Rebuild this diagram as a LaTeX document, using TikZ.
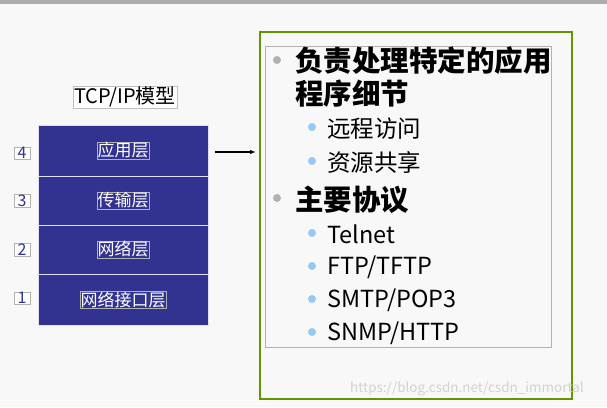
\documentclass[tikz,border=0pt]{standalone}
\usepackage{fontspec}
\setmainfont{Noto Sans CJK SC}
\usetikzlibrary{arrows.meta}
\definecolor{layer}{RGB}{50,50,145}
\definecolor{bg}{RGB}{248,248,248}
\definecolor{grn}{RGB}{100,150,0}
\definecolor{blt}{RGB}{150,200,250}
\tikzset{x=1pt,y=-1pt,
 lay/.style={draw=white!85!layer,fill=layer,minimum width=170pt,minimum height=50pt,inner sep=0pt},
 lbl/.style={draw=gray!60,text=white,font=\fontsize{17}{19}\selectfont,inner sep=0.5pt},
 num/.style={draw=gray!60,fill=white,text=layer,font=\fontsize{16}{18}\selectfont,inner sep=0.5pt,minimum width=16pt},
 big/.style={anchor=west,font=\bfseries\fontsize{28.5}{31}\selectfont,inner sep=0pt},
 sml/.style={anchor=west,font=\fontsize{23.5}{26}\selectfont,inner sep=0pt},
 dotg/.style={fill=gray!60,draw=none,circle,minimum size=8pt,inner sep=0pt},
 dotb/.style={fill=blt,draw=none,circle,minimum size=8pt,inner sep=0pt}}
\begin{document}
\begin{tikzpicture}
\fill[bg] (0,0) rectangle (607,407);
\useasboundingbox (0,0) rectangle (607,407);
\fill[gray!65] (0,0) rectangle (607,4);
\node[draw=gray!50,fill=white,font=\fontsize{20}{22}\selectfont,inner sep=1pt] (t) at (125,97) {TCP/IP模型};
\node[lay,minimum height=51pt] (l4) at (123,150.5) {}; \node[lbl] at (l4) {应用层};
\node[lay,minimum height=49pt] (l3) at (123,200.5) {}; \node[lbl] at (l3) {传输层};
\node[lay,minimum height=49pt] (l2) at (123,249.5) {}; \node[lbl] at (l2) {网络层};
\node[lay,minimum height=51pt] (l1) at (123,299.5) {}; \node[lbl] at (l1) {网络接口层};
\node[num] (n4) at (22,153) {4};
\node[num] (n3) at (22,201) {3};
\node[num] (n2) at (22,250) {2};
\node[num] (n1) at (22,298) {1};
\coordinate (a1) at (215,152); \coordinate (a2) at (256,152);
\draw[-{Latex[length=6pt]},line width=1.2pt] (a1) -- (a2);
\draw[grn,line width=2pt] (260,32) rectangle (572,399);
\draw[gray!60] (265,46) rectangle (551,347);
\node[dotg] at (277,60) {};
\node[big] (b1) at (295,61) {负责处理特定的应用};
\node[big] (b2) at (295,94) {程序细节};
\node[dotb] at (312,127) {}; \node[sml] at (327,129) {远程访问};
\node[dotb] at (312,161) {}; \node[sml] at (327,163) {资源共享};
\node[dotg] at (277,198) {};
\node[big] (b3) at (295,200) {主要协议};
\node[dotb] at (312,233) {}; \node[sml] at (327,234) {Telnet};
\node[dotb] at (312,266) {}; \node[sml] at (327,267) {FTP/TFTP};
\node[dotb] at (312,299) {}; \node[sml] at (327,300) {SMTP/POP3};
\node[dotb] at (312,332) {}; \node[sml] at (327,333) {SNMP/HTTP};
\node[anchor=west,text=gray!35,font=\fontsize{13.5}{15}\selectfont,inner sep=0pt] (w) at (350,389) {https://blog.csdn.net/csdn\_immortal};
\end{tikzpicture}
\end{document}
